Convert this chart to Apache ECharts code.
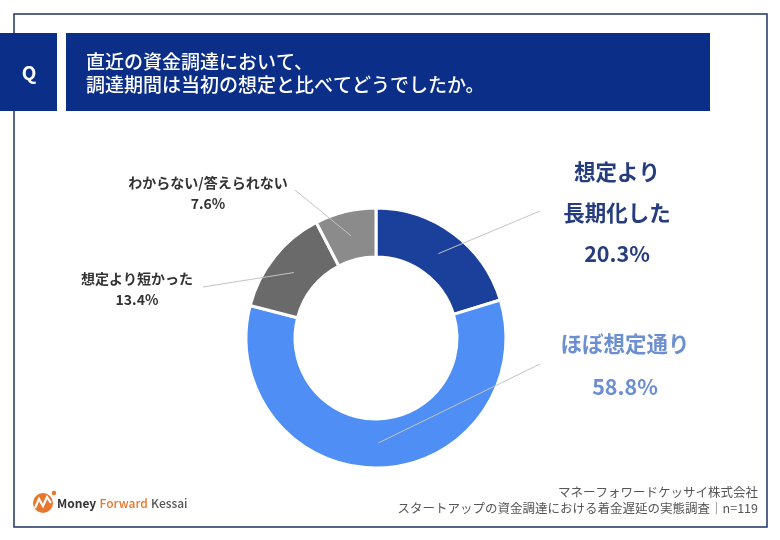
<!DOCTYPE html>
<html>
<head>
<meta charset="utf-8">
<script src="https://cdn.jsdelivr.net/npm/echarts@6/dist/echarts.min.js"></script>
<style>
html,body{margin:0;padding:0;background:#fff;}
#chart{width:780px;height:540px;}
</style>
</head>
<body>
<div id="chart"></div>
<script>
// ---- data ----
const categories = ['想定より長期化した', 'ほぼ想定通り', '想定より短かった', 'わからない/答えられない'];
const labelTexts = ['想定より\n長期化した', 'ほぼ想定通り', '想定より短かった', 'わからない/答えられない'];
const values = [20.3, 58.8, 13.4, 7.6];
const titleLines = ['直近の資金調達において、', '調達期間は当初の想定と比べてどうでしたか。'];
const footerLines = ['マネーフォワードケッサイ株式会社', 'スタートアップの資金調達における着金遅延の実態調査｜n=119'];

// ---- styles / layout ----
const FONT = '"Noto Sans CJK JP", "Noto Sans", sans-serif';
const sliceColors = ['#1b409b', '#4f8ff5', '#6a6a6a', '#8b8b8b'];
const CX = 376, CY = 338;
const labelStyles = [
  {color: '#263d7d', fontSize: 21.5, lineHeight: 41},
  {color: '#6b8fd2', fontSize: 21.5, lineHeight: 43},
  {color: '#333333', fontSize: 14, lineHeight: 21},
  {color: '#333333', fontSize: 14, lineHeight: 21}
];
const labelPos = [[617, 213], [625, 365], [137, 289], [208, 193]];
const lineEnds = [[540, 211], [540, 364], [203, 287], [295, 190]];
const LINE_R = 105;

const total = values.reduce((a, b) => a + b, 0);
function midPoint(i) {
  let acc = 0;
  for (let k = 0; k < i; k++) acc += values[k];
  const a = (acc + values[i] / 2) / total * Math.PI * 2;
  return [CX + LINE_R * Math.sin(a), CY - LINE_R * Math.cos(a)];
}

const chart = echarts.init(document.getElementById('chart'), null, {renderer: 'canvas'});

const ringData = categories.map((c, i) => ({name: c, value: values[i], itemStyle: {color: sliceColors[i]}}));
const labelData = categories.map((c, i) => ({
  name: c, value: values[i],
  label: {
    formatter: labelTexts[i] + '\n' + values[i].toFixed(1) + '%',
    color: labelStyles[i].color,
    fontSize: labelStyles[i].fontSize,
    lineHeight: labelStyles[i].lineHeight
  }
}));

const option = {
  animation: false,
  backgroundColor: '#ffffff',
  graphic: [
    {type: 'rect', shape: {x: 14, y: 14, width: 753, height: 513}, style: {fill: 'none', stroke: '#1f3366', lineWidth: 1.5}, z: 0},
    {type: 'rect', shape: {x: 0, y: 33, width: 57, height: 78}, style: {fill: '#0b2e88'}},
    {type: 'text', x: 29, y: 73, style: {text: 'Q', fill: '#fff', font: 'bold 19px ' + FONT, align: 'center', verticalAlign: 'middle'}},
    {type: 'rect', shape: {x: 66, y: 33, width: 644, height: 78}, style: {fill: '#0b2e88'}},
    {type: 'text', x: 86, y: 62, style: {text: titleLines[0], fill: '#fff', font: '500 19px ' + FONT, verticalAlign: 'middle'}},
    {type: 'text', x: 86, y: 85, style: {text: titleLines[1], fill: '#fff', font: '500 19px ' + FONT, verticalAlign: 'middle'}},
    {type: 'text', x: 758, y: 492, style: {text: footerLines[0], fill: '#555', font: '12.5px ' + FONT, align: 'right', verticalAlign: 'middle'}},
    {type: 'text', x: 758, y: 508, style: {text: footerLines[1], fill: '#555', font: '12.5px ' + FONT, align: 'right', verticalAlign: 'middle'}},
    // logo
    {type: 'circle', shape: {cx: 43, cy: 503, r: 10}, style: {fill: '#e8772e'}},
    {type: 'polyline', shape: {points: [[35, 508], [39, 499], [43, 506], [47, 497], [51, 503]]}, style: {stroke: '#fff', lineWidth: 2.2, fill: 'none'}},
    {type: 'circle', shape: {cx: 54, cy: 493, r: 2.3}, style: {fill: '#e8772e'}},
    {type: 'text', x: 57, y: 503, style: {
      text: '{a|Money} {b|Forward} {c|Kessai}', verticalAlign: 'middle',
      rich: {
        a: {fill: '#333', font: 'bold 12px ' + FONT},
        b: {fill: '#e8772e', font: '500 12px ' + FONT},
        c: {fill: '#555', font: '500 12px ' + FONT}
      }
    }}
  ],
  series: [
    {
      type: 'pie',
      center: [CX, CY],
      radius: [81, 130],
      startAngle: 90,
      clockwise: true,
      silent: true,
      label: {show: false},
      labelLine: {show: false},
      itemStyle: {borderColor: '#fff', borderWidth: 3},
      data: ringData,
      z: 2
    },
    {
      type: 'pie',
      center: [CX, CY],
      radius: [0, LINE_R],
      startAngle: 90,
      clockwise: true,
      silent: true,
      itemStyle: {color: 'rgba(0,0,0,0)', borderWidth: 0},
      label: {show: true, position: 'outside', fontFamily: FONT, fontWeight: 'bold', align: 'center'},
      labelLine: {show: true, showAbove: true, length: 10, length2: 10, lineStyle: {color: '#c4c4c4', width: 1}},
      labelLayout: function (params) {
        const i = params.dataIndex;
        const s = midPoint(i);
        return {
          x: labelPos[i][0], y: labelPos[i][1],
          align: 'center', verticalAlign: 'middle',
          labelLinePoints: [s, lineEnds[i], lineEnds[i]]
        };
      },
      data: labelData,
      z: 5
    }
  ]
};
chart.setOption(option);
</script>
</body>
</html>
